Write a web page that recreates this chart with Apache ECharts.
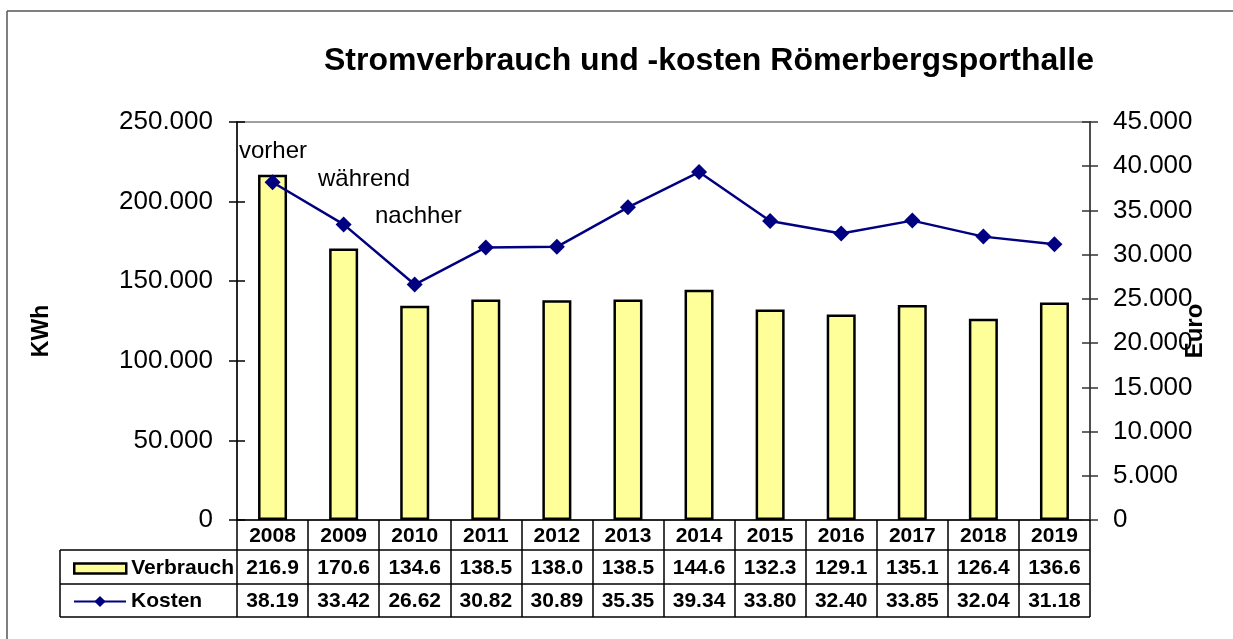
<!DOCTYPE html>
<html>
<head>
<meta charset="utf-8">
<script src="https://cdn.jsdelivr.net/npm/echarts@6/dist/echarts.min.js"></script>
<style>
  html, body { margin: 0; padding: 0; background: #fff; }
  #chart { width: 1233px; height: 639px; }
</style>
</head>
<body>
<div id="chart"></div>
<script>
// Daten (Verbrauch in MWh, Kosten in Tsd. Euro)
var jahre = ["2008", "2009", "2010", "2011", "2012", "2013", "2014", "2015", "2016", "2017", "2018", "2019"];
var verbrauch = [216.9, 170.6, 134.6, 138.5, 138.0, 138.5, 144.6, 132.3, 129.1, 135.1, 126.4, 136.6];
var kosten = [38.19, 33.42, 26.62, 30.82, 30.89, 35.35, 39.34, 33.80, 32.40, 33.85, 32.04, 31.18];
var phasen = ["vorher", "während", "nachher"];

var FONT = "Liberation Sans, Arial, sans-serif";
var G_LEFT = 237, G_RIGHT = 1090, G_TOP = 122, G_BOTTOM = 520;
var ROW1 = 550, ROW2 = 584, ROW3 = 617, LEG_LEFT = 60;

function tausender(v) {
  return String(v).replace(/\B(?=(\d{3})+(?!\d))/g, ".");
}

document.addEventListener("DOMContentLoaded", () => {
  var chart = echarts.init(document.querySelector("#chart"));

  var tabelle = [
    { type: "line", shape: { x1: LEG_LEFT, y1: ROW1, x2: G_RIGHT, y2: ROW1 }, style: { stroke: "#000", lineWidth: 1.5 } },
    { type: "line", shape: { x1: LEG_LEFT, y1: ROW2, x2: G_RIGHT, y2: ROW2 }, style: { stroke: "#000", lineWidth: 1.5 } },
    { type: "line", shape: { x1: LEG_LEFT, y1: ROW3, x2: G_RIGHT, y2: ROW3 }, style: { stroke: "#000", lineWidth: 1.5 } },
    { type: "line", shape: { x1: LEG_LEFT, y1: ROW1, x2: LEG_LEFT, y2: ROW3 }, style: { stroke: "#000", lineWidth: 1.5 } },
    // Rahmen
    { type: "line", shape: { x1: 7, y1: 11, x2: 1233, y2: 11 }, style: { stroke: "#555", lineWidth: 1.5 } },
    { type: "line", shape: { x1: 7, y1: 11, x2: 7, y2: 639 }, style: { stroke: "#555", lineWidth: 1.5 } },
    // Achsentitel
    { type: "text", x: 42, y: 331, rotation: Math.PI / 2,
      style: { text: "KWh", font: "bold 23px " + FONT, fill: "#000", align: "center", verticalAlign: "middle" } },
    { type: "text", x: 1195, y: 331, rotation: Math.PI / 2,
      style: { text: "Euro", font: "bold 24px " + FONT, fill: "#000", align: "center", verticalAlign: "middle" } },
    // Phasen
    { type: "text", x: 239, y: 139, style: { text: phasen[0], font: "24px " + FONT, fill: "#000" } },
    { type: "text", x: 318, y: 167, style: { text: phasen[1], font: "24px " + FONT, fill: "#000" } },
    { type: "text", x: 375, y: 204, style: { text: phasen[2], font: "24px " + FONT, fill: "#000" } }
  ];

  var yLinks = { min: 0, max: 250000, interval: 50000 };
  var yRechts = { min: 0, max: 45000, interval: 5000 };
  var tabText = { fontFamily: FONT, fontSize: 21, fontWeight: "bold", color: "#000" };

  chart.setOption({
    animation: false,
    backgroundColor: "#fff",
    title: {
      text: "Stromverbrauch und -kosten Römerbergsporthalle",
      left: 319,
      top: 40,
      textStyle: { fontFamily: FONT, fontSize: 32, fontWeight: "bold", color: "#000" }
    },
    legend: [
      {
        data: [{ name: "Verbrauch", icon: "rect" }], left: 68, top: 553, itemWidth: 52, itemHeight: 10, itemGap: 5,
        itemStyle: { borderWidth: 2.5, borderColor: "#000" },
        textStyle: tabText
      },
      {
        data: ["Kosten"], left: 68, top: 586, itemWidth: 52, itemHeight: 14, itemGap: 5,
        textStyle: tabText
      }
    ],
    grid: {
      left: G_LEFT, right: 1233 - G_RIGHT, top: G_TOP, bottom: 639 - G_BOTTOM,
      show: true, borderColor: "#808080", borderWidth: 1.5, containLabel: false
    },
    xAxis: {
      type: "category",
      data: jahre,
      boundaryGap: true,
      axisLine: { lineStyle: { color: "#000", width: 1.5 } },
      axisTick: { show: true, interval: 0, length: ROW3 - G_BOTTOM, lineStyle: { color: "#000", width: 1.5 } },
      axisLabel: {
        interval: 0,
        margin: 1,
        formatter: function (value, idx) {
          return "{j|" + value + "}\n{v|" + verbrauch[idx].toFixed(1) + "}\n{k|" + kosten[idx].toFixed(2) + "}";
        },
        rich: {
          j: Object.assign({ lineHeight: 31 }, tabText),
          v: Object.assign({ lineHeight: 33 }, tabText),
          k: Object.assign({ lineHeight: 33 }, tabText)
        }
      }
    },
    yAxis: [
      Object.assign({
        type: "value", position: "left",
        axisLine: { show: true, lineStyle: { color: "#000", width: 1.5 } },
        axisTick: { show: true, length: 8, lineStyle: { color: "#000", width: 1.5 } },
        axisLabel: { margin: 24, fontFamily: FONT, fontSize: 26, color: "#000", formatter: tausender },
        splitLine: { show: false }
      }, yLinks),
      Object.assign({
        type: "value", position: "right",
        axisLine: { show: true, lineStyle: { color: "#333", width: 1.5 } },
        axisTick: { show: true, length: 8, lineStyle: { color: "#333", width: 1.5 } },
        axisLabel: { margin: 23, fontFamily: FONT, fontSize: 26, color: "#000", formatter: tausender },
        splitLine: { show: false }
      }, yRechts),
      // innere Striche
      Object.assign({
        type: "value", position: "left",
        axisLine: { show: false },
        axisTick: { show: true, inside: true, length: 8, lineStyle: { color: "#000", width: 1.5 } },
        axisLabel: { show: false },
        splitLine: { show: false }
      }, yLinks),
      Object.assign({
        type: "value", position: "right",
        axisLine: { show: false },
        axisTick: { show: true, inside: true, length: 8, lineStyle: { color: "#333", width: 1.5 } },
        axisLabel: { show: false },
        splitLine: { show: false }
      }, yRechts)
    ],
    series: [
      {
        name: "Verbrauch",
        type: "bar",
        yAxisIndex: 0,
        barWidth: 29,
        itemStyle: { color: "#FFFF99", borderColor: "#000", borderWidth: 2.5 },
        data: verbrauch.map(function (v) { return v * 1000; })
      },
      {
        name: "Kosten",
        type: "line",
        yAxisIndex: 1,
        symbol: "diamond",
        symbolSize: 16,
        lineStyle: { color: "#000080", width: 2.5 },
        itemStyle: { color: "#000080" },
        data: kosten.map(function (k) { return Math.round(k * 1000); })
      }
    ],
    graphic: tabelle
  });
});
</script>
</body>
</html>
